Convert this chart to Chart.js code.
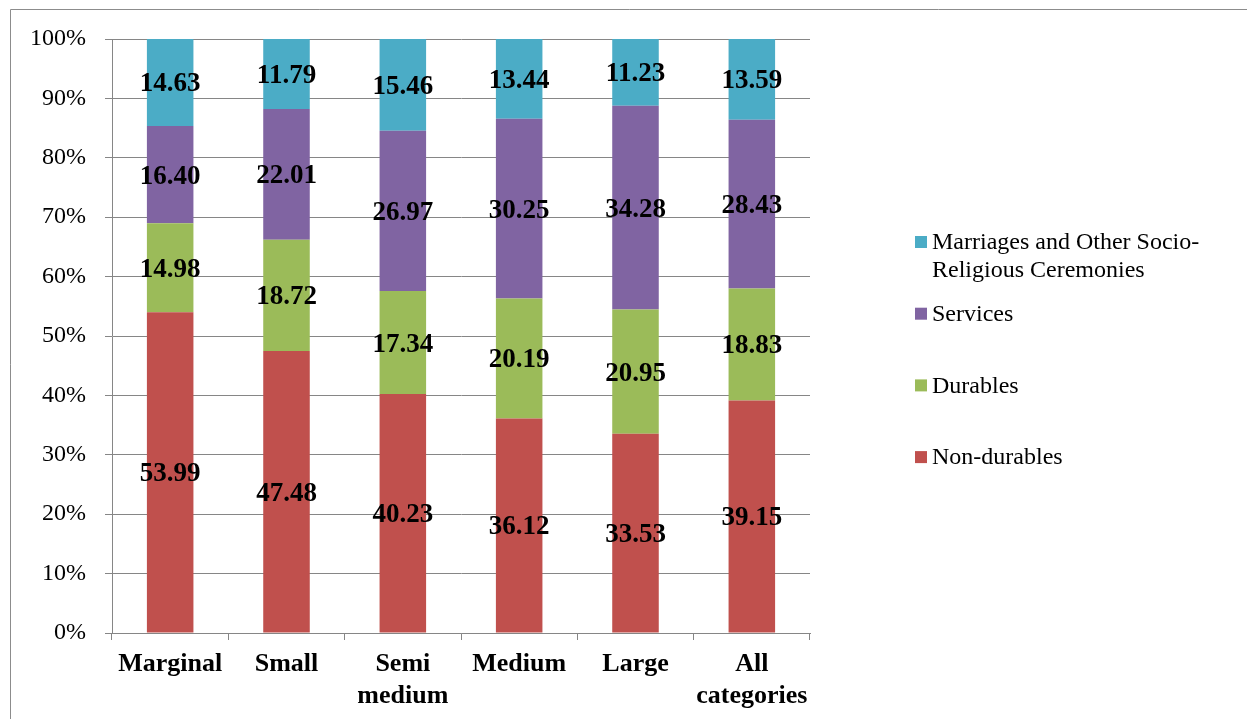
<!DOCTYPE html>
<html>
<head>
<meta charset="utf-8">
<script src="https://cdn.jsdelivr.net/npm/chart.js@4/dist/chart.umd.min.js"></script>
<style>
  html, body { margin: 0; padding: 0; background: #fff; }
  #wrap { position: relative; width: 1247px; height: 719px; }
</style>
</head>
<body>
<div id="wrap"><canvas id="chartShare"></canvas></div>
<script>
'use strict';

// categories and expenditure shares (%)
var categories = ['Marginal', 'Small', ['Semi', 'medium'], 'Medium', 'Large', ['All', 'categories']];
var nonDurables = [53.99, 47.48, 40.23, 36.12, 33.53, 39.15];
var durables = [14.98, 18.72, 17.34, 20.19, 20.95, 18.83];
var services = [16.40, 22.01, 26.97, 30.25, 34.28, 28.43];
var marriages = [14.63, 11.79, 15.46, 13.44, 11.23, 13.59];
var yTicks = [0, 10, 20, 30, 40, 50, 60, 70, 80, 90, 100];

var serif = "'Liberation Serif', 'Times New Roman', serif";
var gridColor = '#868686';

// outer frame of the chart
var framePlugin = {
	id: 'frame',
	beforeDraw: function(chart) {
		var ctx = chart.ctx;
		ctx.save();
		ctx.strokeStyle = '#8c8c8c';
		ctx.lineWidth = 1;
		ctx.beginPath();
		ctx.moveTo(10.5, chart.height + 5);
		ctx.lineTo(10.5, 9.5);
		ctx.lineTo(chart.width + 5, 9.5);
		ctx.stroke();
		ctx.restore();
	}
};

// value labels in the middle of each segment
var valueLabels = {
	id: 'valueLabels',
	afterDatasetsDraw: function(chart) {
		var ctx = chart.ctx;
		ctx.save();
		ctx.font = 'bold 27px ' + serif;
		ctx.fillStyle = '#000';
		ctx.textAlign = 'center';
		ctx.textBaseline = 'middle';
		chart.data.datasets.forEach(function(ds, i) {
			var meta = chart.getDatasetMeta(i);
			meta.data.forEach(function(bar, j) {
				ctx.fillText(ds.data[j].toFixed(2), bar.x, (bar.y + bar.base) / 2 + 2);
			});
		});
		ctx.restore();
	}
};

// legend on the right, top series first, long names wrapped
var sideLegend = {
	id: 'sideLegend',
	afterDraw: function(chart) {
		var ctx = chart.ctx;
		var x = 915, y0 = 242, step = 71.7, lineH = 28, maxW = 285;
		ctx.save();
		ctx.font = '24px ' + serif;
		ctx.textBaseline = 'middle';
		ctx.textAlign = 'left';
		var sets = chart.data.datasets.slice().reverse();
		sets.forEach(function(ds, i) {
			var y = y0 + i * step;
			ctx.fillStyle = ds.backgroundColor;
			ctx.fillRect(x, y - 6, 12, 12);
			var words = ds.label.match(/[^\s-]+-?/g);
			var lines = [], cur = '';
			words.forEach(function(w) {
				var sep = (cur === '' || cur.slice(-1) === '-') ? '' : ' ';
				var test = cur + sep + w;
				if (cur !== '' && ctx.measureText(test).width > maxW) {
					lines.push(cur);
					cur = w;
				} else {
					cur = test;
				}
			});
			lines.push(cur);
			ctx.fillStyle = '#000';
			lines.forEach(function(t, k) {
				ctx.fillText(t, x + 17, y + k * lineH + 1);
			});
		});
		ctx.restore();
	}
};

var ctx = document.getElementById('chartShare');
new Chart(ctx, {
	type: 'bar',
	data: {
		labels: categories,
		datasets: [{
			label: 'Non-durables',
			data: nonDurables,
			backgroundColor: '#C0504D'
		}, {
			label: 'Durables',
			data: durables,
			backgroundColor: '#9BBB59'
		}, {
			label: 'Services',
			data: services,
			backgroundColor: '#8064A2'
		}, {
			label: 'Marriages and Other Socio-Religious Ceremonies',
			data: marriages,
			backgroundColor: '#4BACC6'
		}]
	},
	options: {
		maintainAspectRatio: false,
		responsive: true,
		animation: false,
		layout: {
			padding: { left: 0, top: 39, right: 437, bottom: 0 }
		},
		datasets: {
			bar: { barPercentage: 0.4, categoryPercentage: 1.0 }
		},
		plugins: {
			legend: { display: false },
			tooltip: { enabled: false }
		},
		scales: {
			x: {
				stacked: true,
				afterFit: function(scale) { scale.height = 86; },
				ticks: {
					color: '#000',
					padding: 8,
					maxRotation: 0,
					autoSkip: false,
					font: { family: serif, size: 26, weight: 'bold', lineHeight: 1.25 }
				},
				grid: {
					drawOnChartArea: false,
					drawTicks: true,
					tickLength: 7,
					color: gridColor
				},
				border: { color: gridColor }
			},
			y: {
				stacked: true,
				min: 0,
				max: 100,
				afterFit: function(scale) { scale.width = 112; },
				afterBuildTicks: function(scale) {
					scale.ticks = yTicks.map(function(v) { return { value: v }; });
				},
				ticks: {
					color: '#000',
					padding: 19,
					font: { family: serif, size: 24 },
					callback: function(v) { return v + '%'; }
				},
				grid: {
					color: gridColor,
					tickLength: 7
				},
				border: { color: gridColor }
			}
		}
	},
	plugins: [framePlugin, valueLabels, sideLegend]
});
</script>
</body>
</html>
